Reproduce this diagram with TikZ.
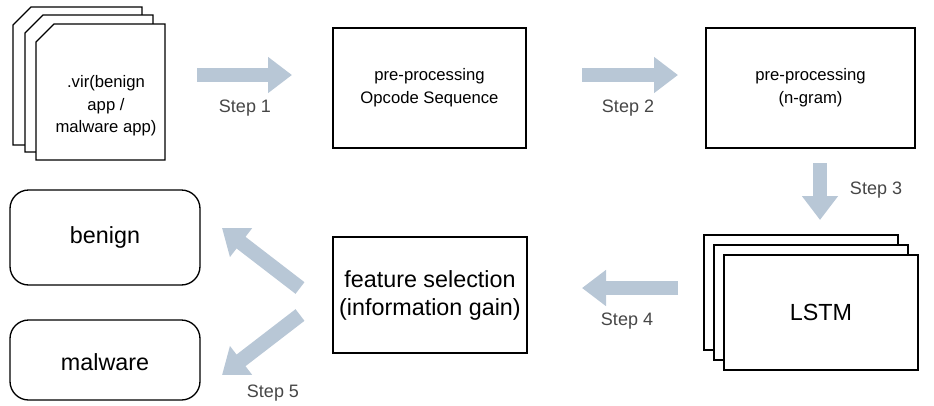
\documentclass[tikz,border=0pt]{standalone}
\usepackage{fontspec}
\setmainfont{Liberation Sans}
\usetikzlibrary{arrows.meta}
\definecolor{stepblue}{RGB}{184,199,214}
\definecolor{steptext}{RGB}{70,70,70}
\tikzset{
  box/.style={draw, line width=1pt, fill=white},
  steparrow/.style={draw=stepblue, line width=11pt, -{Triangle[length=18pt,width=26pt]}},
  steplabel/.style={text=steptext, font=\fontsize{13.5}{16}\selectfont},
  boxtext/.style={align=center, font=\fontsize{12.5}{17}\selectfont},
  bigtext/.style={align=center, font=\fontsize{17.5}{21}\selectfont},
}
\newcommand{\docpage}[4]{\draw[box] (#1+18,#2) -- (#3,#2) -- (#3,#4) -- (#1,#4) -- (#1,#2+18) -- cycle;}
\begin{document}
\begin{tikzpicture}[x=0.75pt,y=-0.75pt]
\useasboundingbox (0,0) rectangle (934,405);
%stacked documents
\docpage{13}{7}{142}{145}
\docpage{25}{15}{153}{152}
\docpage{36}{24}{165}{160}
\node[boxtext] (vir) at (106,106) {.vir(benign\\app /\\malware app)};
%processing boxes
\draw[box] (333,28) rectangle (526,148);
\node[boxtext] (opcode) at (429.5,88) {pre-processing\\Opcode Sequence};
\draw[box] (706,28) rectangle (915,148);
\node[boxtext] (ngram) at (810.5,88) {pre-processing\\(n-gram)};
%LSTM stack
\draw[box] (704,235) rectangle (898,350);
\draw[box] (714,245) rectangle (908,360);
\draw[box] (724,255) rectangle (918,370);
\node[bigtext] (lstm) at (821,312) {LSTM};
\draw[box] (333,237) rectangle (527,353);
\node[bigtext] (feat) at (430,295) {feature selection\\(information gain)};
%results
\draw[box, rounded corners=14pt] (10,190) rectangle (200,285);
\node[bigtext] (benign) at (105,237.5) {benign};
\draw[box, rounded corners=14pt] (10,320) rectangle (200,400);
\node[bigtext] (malware) at (105,362) {malware};
%steps
\coordinate (s1a) at (197,75); \coordinate (s1b) at (292,75);
\coordinate (s2a) at (582,75); \coordinate (s2b) at (678,75);
\coordinate (s3a) at (820,163); \coordinate (s3b) at (820,220);
\coordinate (s4a) at (678,288); \coordinate (s4b) at (582,288);
\coordinate (s5a) at (300,288); \coordinate (s5b) at (222,228);
\coordinate (s6a) at (300,315); \coordinate (s6b) at (222,375);
\draw[steparrow] (s1a) -- (s1b);
\draw[steparrow] (s2a) -- (s2b);
\draw[steparrow] (s3a) -- (s3b);
\draw[steparrow] (s4a) -- (s4b);
\draw[steparrow] (s5a) -- (s5b);
\draw[steparrow] (s6a) -- (s6b);
\node[steplabel] (step1) at (245,108) {Step 1};
\node[steplabel] (step2) at (628,108) {Step 2};
\node[steplabel] (step3) at (876,190) {Step 3};
\node[steplabel] (step4) at (627,321) {Step 4};
\node[steplabel] (step5) at (273,393) {Step 5};
\end{tikzpicture}
\end{document}
